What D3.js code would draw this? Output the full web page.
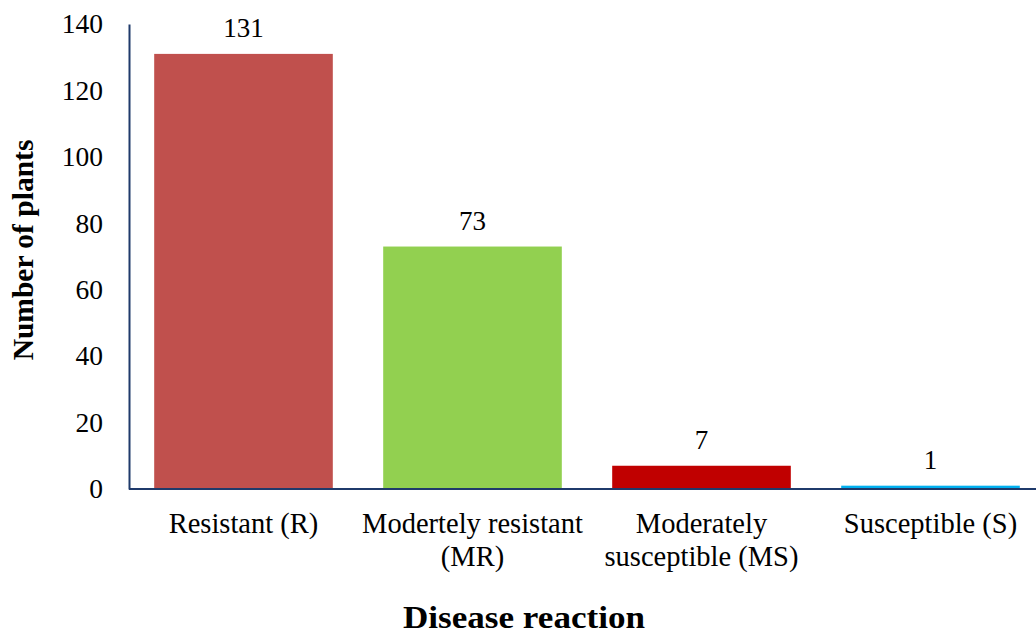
<!DOCTYPE html>
<html>
<head>
<meta charset="utf-8">
<script src="https://cdn.jsdelivr.net/npm/d3@7"></script>
<style>
  html, body { margin: 0; padding: 0; background: #fff; }
  text { font-family: "Liberation Serif", "Times New Roman", serif; fill: #000; }
</style>
</head>
<body>
<svg id="chart" width="1036" height="634"></svg>
<script>
// Disease reaction classes and plant counts
const categories = [["Resistant (R)"], ["Modertely resistant", "(MR)"], ["Moderately", "susceptible (MS)"], ["Susceptible (S)"]];
const counts = [131, 73, 7, 1];
const barColors = ["#C0504D", "#92D050", "#C00000", "#00B0F0"];
const yTicks = [0, 20, 40, 60, 80, 100, 120, 140];

const svg = d3.select("#chart");
const plotLeft = 129, plotRight = 1045, plotTop = 24, plotBottom = 489;
const axisColor = "#1F3A6B";

const x = d3.scaleBand().domain(d3.range(categories.length)).range([plotLeft, plotRight]).paddingInner(0.22).paddingOuter(0.11);
const y = d3.scaleLinear().domain([0, 140]).range([plotBottom, plotTop]);

// Bars
svg.selectAll("rect.bar").data(counts).join("rect")
  .attr("class", "bar")
  .attr("x", (d, i) => x(i))
  .attr("width", x.bandwidth())
  .attr("y", d => y(d))
  .attr("height", d => y(0) - y(d))
  .attr("fill", (d, i) => barColors[i]);

// Value labels above bars
svg.selectAll("text.val").data(counts).join("text")
  .attr("class", "val")
  .attr("x", (d, i) => x(i) + x.bandwidth() / 2)
  .attr("y", d => y(d) - 17)
  .attr("text-anchor", "middle")
  .style("font-size", "27px")
  .text(d => d);

// Y axis (line only, no tick marks)
const yAxis = d3.axisLeft(y).tickValues(yTicks).tickSize(0).tickPadding(26);
const gy = svg.append("g").attr("transform", `translate(${plotLeft},0)`).call(yAxis);
gy.select(".domain").attr("stroke", axisColor).attr("stroke-width", 2);
gy.selectAll("text").style("font-size", "27.5px").style("font-family", "Liberation Serif, serif").attr("fill", "#000");

// X axis baseline
const xAxis = d3.axisBottom(x).tickSize(0).tickFormat("");
const gx = svg.append("g").attr("transform", `translate(0,${plotBottom})`).call(xAxis);
gx.select(".domain").attr("stroke", axisColor).attr("stroke-width", 2).attr("d", `M${plotLeft},0H1036`);

// Category labels (wrapped onto two lines where needed)
const cl = svg.selectAll("text.cat").data(categories).join("text")
  .attr("class", "cat")
  .attr("text-anchor", "middle")
  .style("font-size", "28.5px");
cl.selectAll("tspan").data((d, i) => d.map(s => ({ s, i }))).join("tspan")
  .attr("x", d => x(d.i) + x.bandwidth() / 2)
  .attr("y", (d, j) => 533 + j * 33)
  .text(d => d.s);

// Axis titles
svg.append("text")
  .attr("x", 524)
  .attr("y", 628)
  .attr("text-anchor", "middle")
  .attr("textLength", 242)
  .attr("lengthAdjust", "spacingAndGlyphs")
  .style("font-size", "32px")
  .style("font-weight", "bold")
  .text("Disease reaction");

svg.append("text")
  .attr("transform", `translate(33,250) rotate(-90)`)
  .attr("text-anchor", "middle")
  .style("font-size", "29.5px")
  .style("font-weight", "bold")
  .text("Number of plants");
</script>
</body>
</html>
